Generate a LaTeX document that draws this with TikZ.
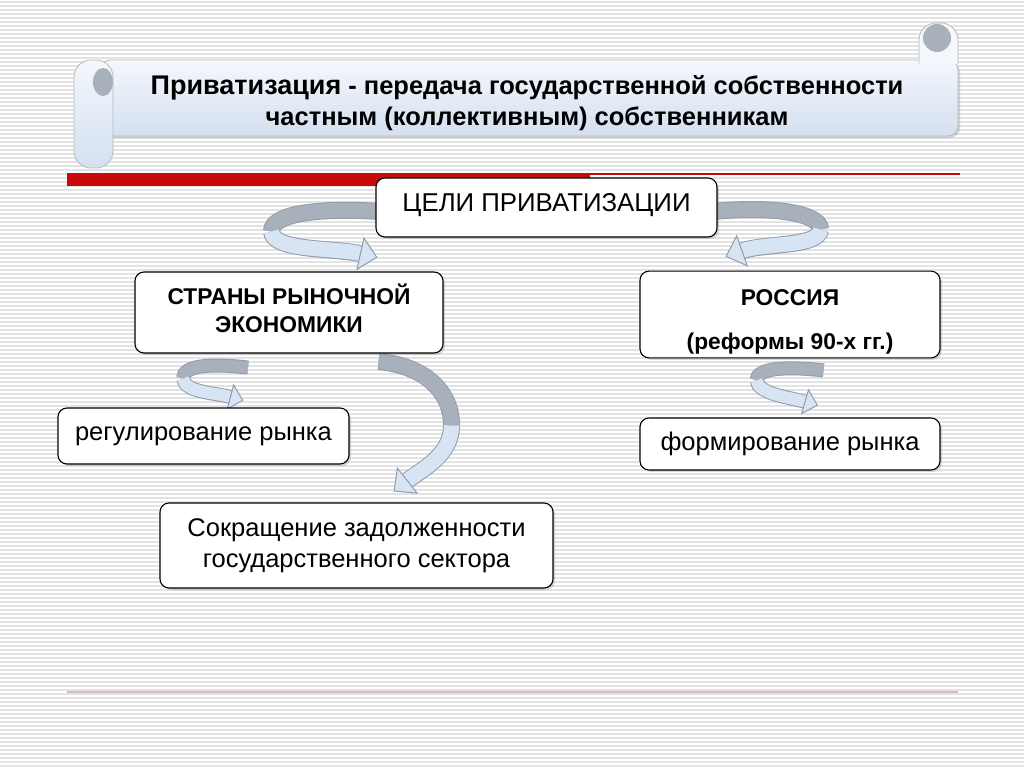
\documentclass[tikz,border=0pt]{standalone}
\usepackage{fontspec}
\setmainfont{Liberation Sans}
\usetikzlibrary{arrows.meta,positioning,calc,shadows,backgrounds}

\definecolor{rbgray}{RGB}{168,176,188}
\definecolor{rbblue}{RGB}{214,228,244}
\definecolor{rbedge}{RGB}{146,156,170}
\definecolor{barred}{RGB}{200,10,10}
\definecolor{scrolltop}{RGB}{244,247,252}
\definecolor{scrollbot}{RGB}{212,224,240}
\definecolor{lineink}{RGB}{215,185,192}

\begin{document}
\begin{tikzpicture}[x=1pt, y=-1pt,
  box/.style={draw, rounded corners=9pt, fill=white, line width=1.1pt, align=center, inner sep=4pt, drop shadow={opacity=0.3, shadow xshift=2pt, shadow yshift=-2pt}},
  hd/.style={font=\bfseries\fontsize{22.8}{28}\selectfont},
  tx/.style={font=\fontsize{25.5}{31}\selectfont},
  rback/.style={draw=rbgray, line width=15pt, preaction={draw=rbedge, line width=17pt}},
  rfront/.style={draw=rbblue, line width=15pt, preaction={draw=rbedge, line width=17pt, shorten >=16pt, arrows=-}, -{Triangle[length=18pt, width=34pt, line width=1pt, color=rbedge, fill=rbblue]}},
  sback/.style={draw=rbgray, line width=12pt, preaction={draw=rbedge, line width=14pt}},
  sfront/.style={draw=rbblue, line width=12pt, preaction={draw=rbedge, line width=14pt, shorten >=12pt, arrows=-}, -{Triangle[length=14pt, width=27pt, line width=1pt, color=rbedge, fill=rbblue]}},
  scroll/.style={draw=gray!55, line width=0.8pt, top color=scrolltop, bottom color=scrollbot},
  stripe/.style={gray!22, line width=1.8pt}
]
\useasboundingbox (0,0) rectangle (1024,767);

\draw[scroll, rounded corners=10pt, drop shadow={opacity=0.3, shadow xshift=2pt, shadow yshift=-2pt}] (100,60) rectangle (958,136);
\filldraw[draw=gray!55, line width=0.8pt, fill=scrolltop, rounded corners=17pt] (919,64) -- (919,23) -- (958,23) [sharp corners] -- (958,64);
\fill[rbgray] (937,38) circle (14pt);
\draw[scroll, rounded corners=17pt] (74,60) rectangle (113,168);
\fill[rbgray] (103,82) ellipse [x radius=10pt, y radius=14pt];

\fill[barred] (67,173) rectangle (590,186);
\draw[barred, line width=1.5pt] (590,174) -- (960,174);
\draw[lineink, line width=2.5pt] (67,692) -- (958,692);

\node[font=\bfseries\fontsize{25.5}{31}\selectfont, align=center] (title) at (527,103) {{\fontsize{27}{31}\selectfont Приватизация} - передача государственной собственности\\частным (коллективным) собственникам};

\node[box, minimum width=341pt, minimum height=59pt, text height=28pt, text depth=19pt, inner ysep=6pt, font=\fontsize{25.8}{30}\selectfont] (goals) at (546.5,207.5) {ЦЕЛИ ПРИВАТИЗАЦИИ};
\node[box, hd, minimum width=308pt, minimum height=81pt] (market) at (289,312.5) {СТРАНЫ РЫНОЧНОЙ\\ЭКОНОМИКИ\rule[-8pt]{0pt}{8pt}};
\node[box, hd, minimum width=300pt, minimum height=85pt] (rus) at (790,314.5) {\rule{0pt}{30pt}РОССИЯ\\[16pt](реформы 90-х гг.)};
\node[box, tx, minimum width=300pt, minimum height=52pt, below=59pt of rus] (rusgoal) {формирование рынка};
\node[box, tx, minimum width=291pt, minimum height=56pt] (regul) at (203.5,436) {регулирование рынка};
\node[box, tx, minimum width=393pt, minimum height=85pt] (debt) at (356.5,545.5) {Сокращение задолженности\\государственного сектора};

\coordinate (a1s) at ($(goals.west)+(4,4)$);
\coordinate (a1m) at ($(goals.west)+(-104,24)$);
\coordinate (a1e) at ($(market.north east)+(-66,-14)$);
\coordinate (a2s) at ($(goals.east)+(-4,4)$);
\coordinate (a2m) at ($(goals.east)+(103,22)$);
\coordinate (a2e) at ($(rus.north west)+(86,-14)$);
\coordinate (a3s) at ($(market.south)+(-41,14)$);
\coordinate (a3m) at ($(market.south)+(-106,25)$);
\coordinate (a3e) at ($(regul.north)+(40,-7)$);
\coordinate (a4s) at ($(market.south east)+(-65,8)$);
\coordinate (a4m) at ($(market.south east)+(8,72)$);
\coordinate (a4e) at ($(debt.north)+(37,-11)$);
\coordinate (a5s) at ($(rus.south east)+(-117,12)$);
\coordinate (a5m) at ($(rus.south west)+(117,22)$);
\coordinate (a5e) at ($(rusgoal.north)+(28,-12)$);

\begin{scope}[on background layer]
\fill[white] (0,0) rectangle (1024,767);
\foreach \yy in {2,6,...,766}
  \draw[stripe] (0,\yy) -- (1024,\yy);
\end{scope}

\begin{scope}[on background layer]
\draw[rback] (a1s) .. controls +(-60,-4) and +(0,-18) .. (a1m);
\draw[rfront] (a1m) .. controls +(2,20) and +(-45,-10) .. (a1e);
\draw[rback] (a2s) .. controls +(60,-6) and +(0,-16) .. (a2m);
\draw[rfront] (a2m) .. controls +(-2,18) and +(40,-14) .. (a2e);
\draw[sback] (a3s) .. controls +(-35,-4) and +(0,-14) .. (a3m);
\draw[sfront] (a3m) .. controls +(2,14) and +(-30,-8) .. (a3e);
\draw[rback] (a4s) .. controls +(45,4) and +(0,-35) .. (a4m);
\draw[rfront] (a4m) .. controls +(0,30) and +(28,-22) .. (a4e);
\draw[sback] (a5s) .. controls +(-35,-4) and +(0,-13) .. (a5m);
\draw[sfront] (a5m) .. controls +(2,14) and +(-28,-8) .. (a5e);
\end{scope}
\end{tikzpicture}
\end{document}
